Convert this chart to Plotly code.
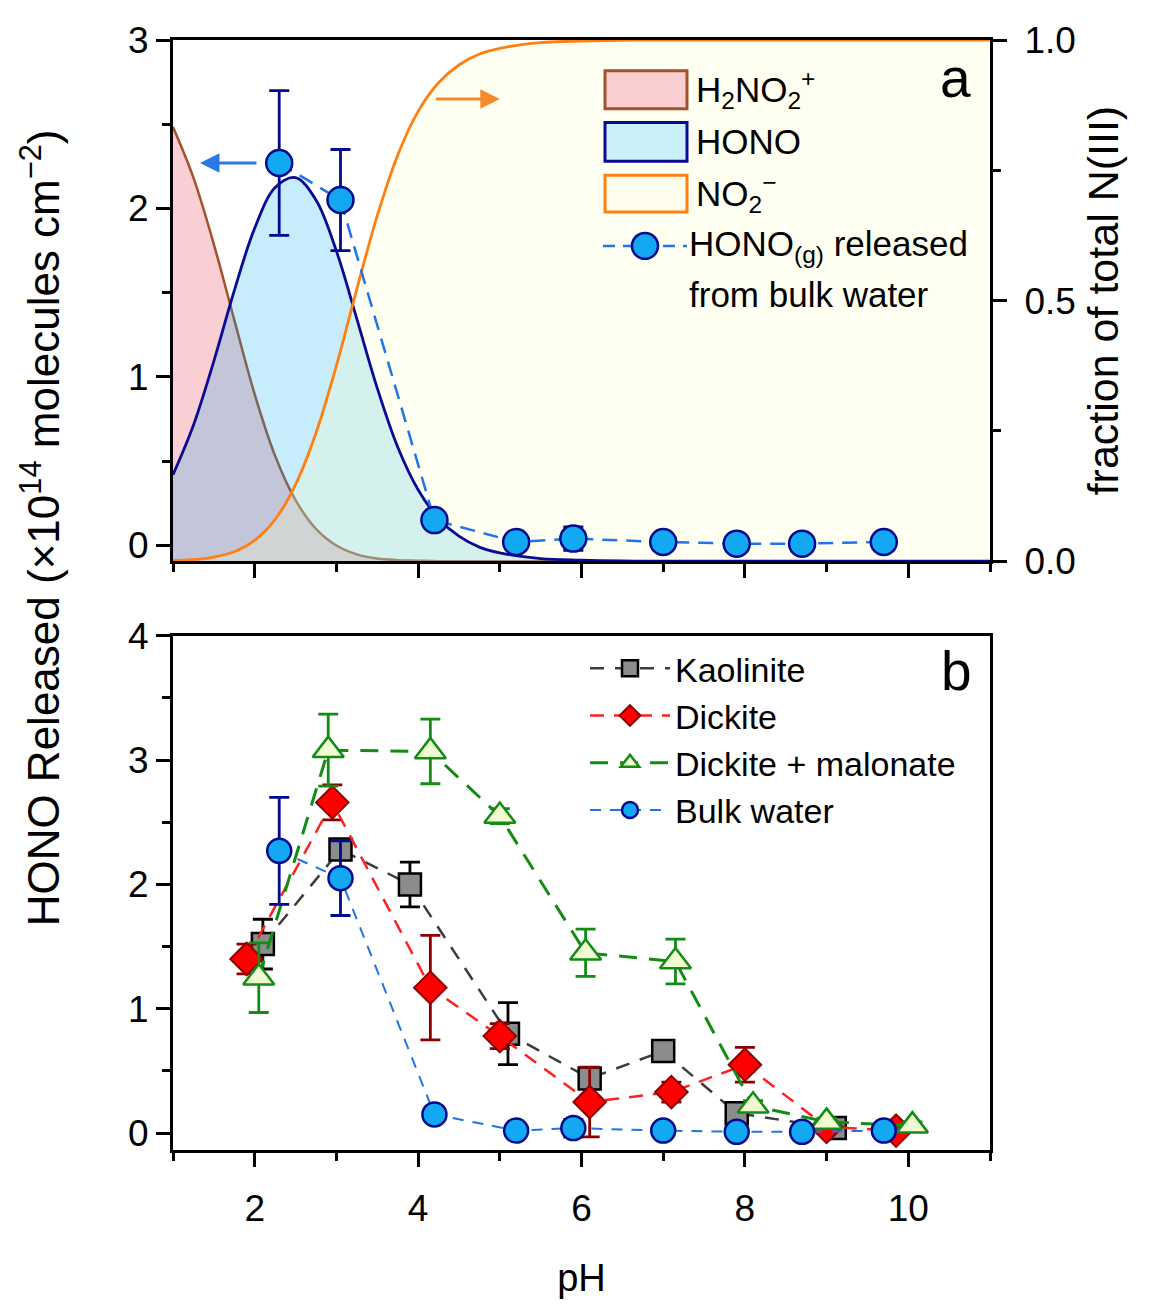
import plotly.graph_objects as go

# ---------------- data ----------------
# speciation of N(III) (fraction of total)
ph_spec = [1.0, 1.25, 1.5, 1.75, 2.0, 2.25, 2.5, 2.75, 3.0, 3.25, 3.5, 3.75, 4.0,
           4.25, 4.5, 4.75, 5.0, 5.5, 6.0, 6.5, 7.0, 8.0, 9.0, 10.0, 11.0]
frac_h2no2 = [0.833, 0.736, 0.608, 0.463, 0.320, 0.202, 0.117, 0.062, 0.030, 0.013, 0.005,
              0.002, 0.001, 0.0, 0.0, 0.0, 0.0, 0.0, 0.0, 0.0, 0.0, 0.0, 0.0, 0.0, 0.0]
frac_hono = [0.166, 0.261, 0.384, 0.519, 0.639, 0.717, 0.736, 0.693, 0.595, 0.465, 0.332,
             0.219, 0.137, 0.082, 0.048, 0.027, 0.016, 0.005, 0.002, 0.0005, 0.0, 0.0, 0.0, 0.0, 0.0]
frac_no2 = [0.001, 0.003, 0.008, 0.018, 0.040, 0.080, 0.147, 0.246, 0.375, 0.522, 0.663,
            0.779, 0.863, 0.918, 0.952, 0.973, 0.984, 0.995, 0.998, 0.9995, 1.0, 1.0, 1.0, 1.0, 1.0]

# HONO released (x1e14 molecules cm-2)
bulk_ph = [2.3, 3.05, 4.2, 5.2, 5.9, 7.0, 7.9, 8.7, 9.7]
bulk_val = [2.27, 2.05, 0.15, 0.02, 0.04, 0.02, 0.01, 0.01, 0.02]
bulk_err = [0.43, 0.30, 0.04, 0.03, 0.07, 0.03, 0.03, 0.03, 0.03]

kaol_ph = [2.1, 3.05, 3.9, 5.1, 6.1, 7.0, 7.9, 9.1]
kaol_val = [1.52, 2.28, 2.00, 0.80, 0.44, 0.66, 0.16, 0.04]
kaol_err = [0.20, 0.08, 0.18, 0.25, 0.05, 0.05, 0.05, 0.03]

dick_ph = [1.9, 2.95, 4.15, 5.0, 6.1, 7.1, 8.0, 9.0, 9.85]
dick_val = [1.40, 2.66, 1.17, 0.78, 0.25, 0.33, 0.55, 0.05, 0.02]
dick_err = [0.12, 0.14, 0.42, 0.10, 0.28, 0.08, 0.14, 0.05, 0.05]

mal_ph = [2.05, 2.9, 4.15, 5.0, 6.05, 7.15, 8.1, 9.0, 10.05]
mal_val = [1.25, 3.08, 3.07, 2.55, 1.45, 1.38, 0.22, 0.09, 0.06]
mal_err = [0.28, 0.29, 0.26, 0.06, 0.19, 0.18, 0.04, 0.03, 0.03]

# ---------------- layout helpers ----------------
# the page body adds an 8 px offset; figure sized so the plot area lands at
# x 173..990, y 34..1150 of the 1155x1309 window
W, H = 1147, 1301
L, R, T, B = 165, 165, 26, 159
PLOT_X0, PLOT_X1, PLOT_Y0, PLOT_Y1 = 173, 990, 34, 1150
def px(x):
    return (x - PLOT_X0) / (PLOT_X1 - PLOT_X0)
def py(y):
    return (PLOT_Y1 - y) / (PLOT_Y1 - PLOT_Y0)

FONT = "Liberation Sans, Arial, sans-serif"
NAVY = "#000a8c"
BLUE_LINE = "#1f74e6"
BLUE_FILL = "#12a9f2"

fig = go.Figure()

# ---- panel a: speciation fills (main axis y2, right side) ----
fig.add_trace(go.Scatter(x=ph_spec, y=frac_h2no2, mode="lines", xaxis="x2", yaxis="y2",
                         line=dict(color="#a0522d", width=2.5, shape="spline"),
                         fill="tozeroy", fillcolor="rgba(235,95,110,0.30)", showlegend=False,
                         hoverinfo="skip"))
fig.add_trace(go.Scatter(x=ph_spec, y=frac_hono, mode="lines", xaxis="x2", yaxis="y2",
                         line=dict(width=0, shape="spline"),
                         fill="tozeroy", fillcolor="rgba(0,170,235,0.22)", showlegend=False,
                         hoverinfo="skip"))
fig.add_trace(go.Scatter(x=ph_spec, y=frac_no2, mode="lines", xaxis="x2", yaxis="y2",
                         line=dict(width=0, shape="spline"),
                         fill="tozeroy", fillcolor="rgba(255,255,200,0.25)", showlegend=False,
                         hoverinfo="skip"))
fig.add_trace(go.Scatter(x=ph_spec, y=frac_hono, mode="lines", xaxis="x2", yaxis="y2",
                         line=dict(color="#0a0a96", width=2.8, shape="spline"),
                         showlegend=False, hoverinfo="skip"))
fig.add_trace(go.Scatter(x=ph_spec, y=frac_no2, mode="lines", xaxis="x2", yaxis="y2",
                         line=dict(color="#ff7f10", width=2.8, shape="spline"),
                         showlegend=False, hoverinfo="skip"))

# ---- panel a: bulk water HONO (overlay axis y3, left side) ----
fig.add_trace(go.Scatter(x=bulk_ph, y=bulk_val, mode="lines+markers", xaxis="x2", yaxis="y3",
                         line=dict(color=BLUE_LINE, width=2.5, dash="15px,9px"),
                         marker=dict(symbol="circle", size=26, color=BLUE_FILL,
                                     line=dict(color=NAVY, width=2.5)),
                         error_y=dict(type="data", array=bulk_err, color=NAVY,
                                      thickness=2.8, width=10),
                         showlegend=False))

# ---- panel b ----
fig.add_trace(go.Scatter(x=kaol_ph, y=kaol_val, mode="lines+markers", name="Kaolinite",
                         xaxis="x", yaxis="y", legend="legend2",
                         line=dict(color="#3c3c3c", width=2.5, dash="14px,11px"),
                         marker=dict(symbol="square", size=22, color="#8c8c8c",
                                     line=dict(color="black", width=2.5)),
                         error_y=dict(type="data", array=kaol_err, color="black",
                                      thickness=2.8, width=10)))
fig.add_trace(go.Scatter(x=dick_ph, y=dick_val, mode="lines+markers", name="Dickite",
                         xaxis="x", yaxis="y", legend="legend2",
                         line=dict(color="#ff2020", width=2.5, dash="14px,10px"),
                         marker=dict(symbol="diamond", size=25, color="#ff0000",
                                     line=dict(color="#8b0000", width=2)),
                         error_y=dict(type="data", array=dick_err, color="#8b0000",
                                      thickness=2.8, width=10)))
fig.add_trace(go.Scatter(x=mal_ph, y=mal_val, mode="lines+markers", name="Dickite + malonate",
                         xaxis="x", yaxis="y", legend="legend2",
                         line=dict(color="#128c12", width=3, dash="18px,12px"),
                         marker=dict(symbol="triangle-up", size=27, color="#f0fbd2",
                                     line=dict(color="#128c12", width=2.5)),
                         error_y=dict(type="data", array=mal_err, color="#128c12",
                                      thickness=2.8, width=10)))
fig.add_trace(go.Scatter(x=bulk_ph, y=bulk_val, mode="lines+markers", name="Bulk water",
                         xaxis="x", yaxis="y", legend="legend2",
                         line=dict(color=BLUE_LINE, width=2, dash="11px,9px"),
                         marker=dict(symbol="circle", size=24, color=BLUE_FILL,
                                     line=dict(color=NAVY, width=2.5)),
                         error_y=dict(type="data", array=bulk_err, color=NAVY,
                                      thickness=2.8, width=10)))

# ---------------- axes ----------------
tickfont = dict(family=FONT, size=37, color="black")
common = dict(showgrid=False, zeroline=False, showline=True, linecolor="black", linewidth=3,
              ticks="outside", tickwidth=2.5, ticklen=14, tickcolor="black", tickfont=tickfont)
minor_x = dict(dtick=1, ticklen=8, tickwidth=2.5, tickcolor="black", ticks="outside")

top_dom = [py(558), 1.0]
bot_dom = [0.0, py(633)]

fig.update_layout(
    width=W, height=H, margin=dict(l=L, r=R, t=T, b=B, pad=0),
    paper_bgcolor="white", plot_bgcolor="white",
    font=dict(family=FONT, size=32, color="black"),
    xaxis=dict(**common, domain=[0, 1], anchor="y", range=[1, 11], tick0=0, dtick=2,
               mirror=True, minor=minor_x, ticklabelstandoff=10,
               title=dict(text="pH", font=dict(family=FONT, size=38), standoff=36)),
    xaxis2=dict(**common, domain=[0, 1], anchor="y2", range=[1, 11], tick0=0, dtick=2,
                mirror=True, showticklabels=False, matches="x", minor=minor_x),
    yaxis=dict(**common, domain=bot_dom, anchor="x", range=[-0.136, 4], tick0=0, dtick=1,
               mirror=True,
               minor=dict(dtick=0.5, ticklen=8, tickwidth=2.5, tickcolor="black", ticks="outside")),
    yaxis2=dict(**common, domain=top_dom, anchor="x2", side="right", range=[0, 1], tick0=0,
                dtick=0.5, tickformat=".1f", mirror=True, ticklabelstandoff=10,
                minor=dict(dtick=0.25, ticklen=8, tickwidth=2.5, tickcolor="black", ticks="outside"),
                title=dict(text="fraction of total N(III)", font=dict(family=FONT, size=43),
                           standoff=14)),
    yaxis3=dict(**common, overlaying="y2", anchor="x2", side="left", range=[-0.094, 3],
                tick0=0, dtick=1,
                minor=dict(dtick=0.5, ticklen=8, tickwidth=2.5, tickcolor="black", ticks="outside")),
    legend2=dict(x=px(585), y=py(637), xanchor="left", yanchor="top",
                 bgcolor="rgba(0,0,0,0)", font=dict(family=FONT, size=34),
                 itemwidth=80, tracegroupgap=0),
    showlegend=True,
)

# ---------------- annotations ----------------
ann = []
ann.append(dict(text="HONO Released (×10<sup>14</sup> molecules cm<sup>−2</sup>)",
                xref="paper", yref="paper", x=px(40), y=py(525), textangle=-90,
                showarrow=False, font=dict(family=FONT, size=44), xanchor="center",
                yanchor="middle"))
ann.append(dict(text="a", xref="paper", yref="paper", x=px(973), y=py(39), showarrow=False,
                font=dict(family=FONT, size=55)))
ann.append(dict(text="b", xref="paper", yref="paper", x=px(974), y=py(668), showarrow=False,
                font=dict(family=FONT, size=55)))
# arrows
ann.append(dict(x=1.33, y=2.27, xref="x2", yref="y3", ax=2.04, ay=2.27, axref="x2", ayref="y3",
                showarrow=True, arrowhead=2, arrowsize=1.3, arrowwidth=3, arrowcolor="#2a78e4",
                text=""))
ann.append(dict(x=5.0, y=0.887, xref="x2", yref="y2", ax=4.2, ay=0.887, axref="x2", ayref="y2",
                showarrow=True, arrowhead=2, arrowsize=1.3, arrowwidth=3, arrowcolor="#f58a2a",
                text=""))

# manual legend for panel a
shapes = []
boxes = [
    (65, 103, "rgb(250,207,210)", "#a0522d", "H<sub>2</sub>NO<sub>2</sub><sup>+</sup>"),
    (117, 156, "rgb(202,240,250)", "#0a0a96", "HONO"),
    (170, 207, "rgb(255,253,236)", "#ff7f10", "NO<sub>2</sub><sup>−</sup>"),
]
for y0, y1, fc, lc, label in boxes:
    shapes.append(dict(type="rect", xref="paper", yref="paper", x0=px(605), x1=px(687),
                       y0=py(y1), y1=py(y0), fillcolor=fc, line=dict(color=lc, width=3)))
    ann.append(dict(text=label, xref="paper", yref="paper", x=px(694), y=py((y0 + y1) / 2),
                    xanchor="left", yanchor="middle", showarrow=False,
                    font=dict(family=FONT, size=35)))
shapes.append(dict(type="line", xref="paper", yref="paper", x0=px(603), x1=px(687),
                   y0=py(241), y1=py(241), line=dict(color=BLUE_LINE, width=2.5, dash="12px,8px")))
shapes.append(dict(type="circle", xref="paper", yref="paper", x0=px(632), x1=px(658),
                   y0=py(254), y1=py(228), fillcolor=BLUE_FILL, line=dict(color=NAVY, width=2.5)))
ann.append(dict(text="HONO<sub>(g)</sub> released", xref="paper", yref="paper", x=px(687),
                y=py(241), xanchor="left", yanchor="middle", showarrow=False,
                font=dict(family=FONT, size=35)))
ann.append(dict(text="from bulk water", xref="paper", yref="paper", x=px(687),
                y=py(290), xanchor="left", yanchor="middle", showarrow=False,
                font=dict(family=FONT, size=35)))

fig.update_layout(annotations=ann, shapes=shapes)
fig.write_html("out.html")
